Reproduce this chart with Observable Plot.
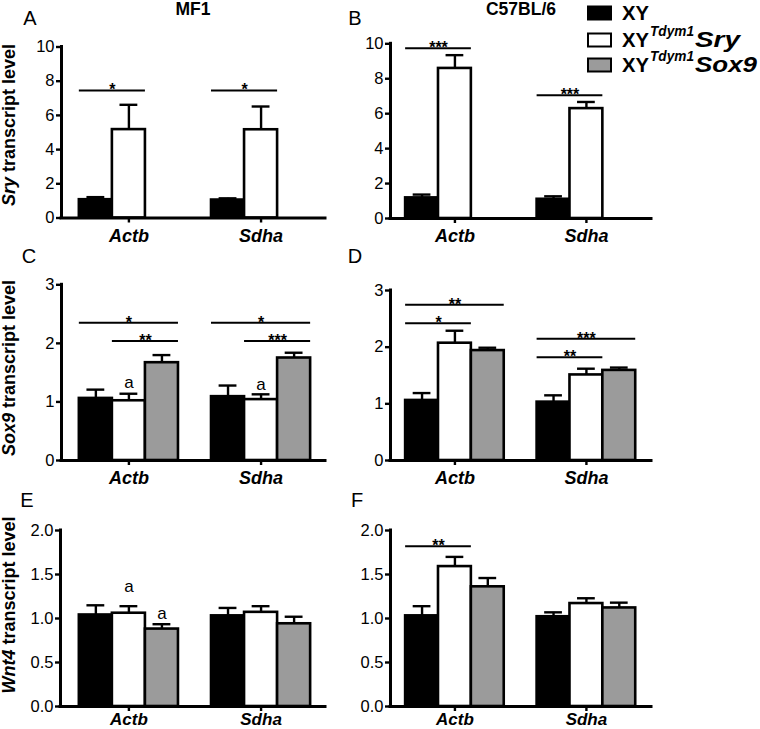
<!DOCTYPE html>
<html><head><meta charset="utf-8">
<script src="https://cdn.jsdelivr.net/npm/d3@7"></script>
<script src="https://cdn.jsdelivr.net/npm/@observablehq/plot@0.6"></script>
<style>
body{margin:0;background:#fff;}
#fig{position:relative;width:760px;height:729px;overflow:hidden;font-family:"Liberation Sans",Arial,Helvetica,sans-serif;}
#fig svg{position:absolute;}
</style></head><body><div id="fig"></div>
<script>
// ---------- data ----------
const genes = ["Actb", "Sdha"];
const genotypes = ["XY", "XYTdym1Sry", "XYTdym1Sox9"];
const genotypeFill = ["#000000", "#ffffff", "#9b9b9b"];
const strains = ["MF1", "C57BL/6"];
const legendLabels = [["XY", "", ""], ["XY", "Tdym1", "Sry"], ["XY", "Tdym1", "Sox9"]];
const yTitles = [["Sry", " transcript level"], ["Sox9", " transcript level"], ["Wnt4", " transcript level"]];

// order: Actb XY, Sry, Sox9 | Sdha XY, Sry, Sox9  (null = not measured); Err = top of error bar
const sryMF1Mean = [1.07, 5.17, null, 1.05, 5.16, null];
const sryMF1Err  = [1.22, 6.62, null, 1.15, 6.52, null];
const sryB6Mean  = [1.18, 8.59, null, 1.10, 6.29, null];
const sryB6Err   = [1.37, 9.35, null, 1.27, 6.67, null];
const sox9MF1Mean = [1.06, 1.02, 1.67, 1.09, 1.04, 1.75];
const sox9MF1Err  = [1.21, 1.14, 1.80, 1.28, 1.13, 1.84];
const sox9B6Mean  = [1.06, 2.07, 1.94, 1.03, 1.51, 1.59];
const sox9B6Err   = [1.19, 2.29, 1.99, 1.15, 1.62, 1.64];
const wnt4MF1Mean = [1.04, 1.06, 0.88, 1.03, 1.07, 0.94];
const wnt4MF1Err  = [1.15, 1.14, 0.935, 1.12, 1.14, 1.02];
const wnt4B6Mean  = [1.03, 1.59, 1.36, 1.02, 1.17, 1.12];
const wnt4B6Err   = [1.14, 1.70, 1.46, 1.07, 1.23, 1.18];

// significance brackets: [gene, from, to, height, label]
const sryMF1Sig = [["Actb", "XY", "XYTdym1Sry", 7.46, "*"], ["Sdha", "XY", "XYTdym1Sry", 7.46, "*"]];
const sryB6Sig = [["Actb", "XY", "XYTdym1Sry", 9.75, "***"], ["Sdha", "XY", "XYTdym1Sry", 7.05, "***"]];
const sox9MF1Sig = [["Actb", "XY", "XYTdym1Sox9", 2.35, "*"], ["Actb", "XYTdym1Sry", "XYTdym1Sox9", 2.04, "**"],
                    ["Sdha", "XY", "XYTdym1Sox9", 2.35, "*"], ["Sdha", "XYTdym1Sry", "XYTdym1Sox9", 2.04, "***"]];
const sox9B6Sig = [["Actb", "XY", "XYTdym1Sox9", 2.75, "**"], ["Actb", "XY", "XYTdym1Sry", 2.42, "*"],
                   ["Sdha", "XY", "XYTdym1Sox9", 2.15, "***"], ["Sdha", "XY", "XYTdym1Sry", 1.82, "**"]];
const wnt4MF1Sig = [];
const wnt4B6Sig = [["Actb", "XY", "XYTdym1Sry", 1.82, "**"]];

// letter annotations: [gene, genotype, baseline, label]
const sox9MF1Letters = [["Actb", "XYTdym1Sry", 1.23, "a"], ["Sdha", "XYTdym1Sry", 1.21, "a"]];
const wnt4MF1Letters = [["Actb", "XYTdym1Sry", 1.30, "a"], ["Actb", "XYTdym1Sox9", 0.99, "a"]];

const sryTicks = [0, 2, 4, 6, 8, 10];
const sox9Ticks = [0, 1, 2, 3];
const wnt4Ticks = [0, 0.5, 1, 1.5, 2];

// ---------- layout ----------
const FONT = "Liberation Sans, Arial, Helvetica, sans-serif";
const slotsPerGene = genotypes.length + 1;
const slot = (g, t) => genes.indexOf(g) * slotsPerGene + genotypes.indexOf(t);

const panels = [
  {letter: "A", mean: sryMF1Mean, err: sryMF1Err, sig: sryMF1Sig, letters: [], ticks: sryTicks, fmt: d3.format("d"),
   left: 0, top: 30, width: 340, height: 220, mt: 16.5, mb: 32.5, ml: 61, mr: 15, pad: 6, fs: 18, xd: [-0.54, 7.45]},
  {letter: "B", mean: sryB6Mean, err: sryB6Err, sig: sryB6Sig, letters: [], ticks: sryTicks, fmt: d3.format("d"),
   left: 340, top: 30, width: 420, height: 220, mt: 13.3, mb: 32, ml: 50, mr: 109, pad: 6, fs: 18, xd: [-0.46, 7.48]},
  {letter: "C", mean: sox9MF1Mean, err: sox9MF1Err, sig: sox9MF1Sig, letters: sox9MF1Letters, ticks: sox9Ticks, fmt: d3.format("d"),
   left: 0, top: 270, width: 340, height: 220, mt: 14.3, mb: 30, ml: 61, mr: 15, pad: 6, fs: 18, xd: [-0.54, 7.45]},
  {letter: "D", mean: sox9B6Mean, err: sox9B6Err, sig: sox9B6Sig, letters: [], ticks: sox9Ticks, fmt: d3.format("d"),
   left: 340, top: 270, width: 420, height: 220, mt: 20, mb: 30, ml: 50, mr: 109, pad: 6, fs: 18, xd: [-0.46, 7.48]},
  {letter: "E", mean: wnt4MF1Mean, err: wnt4MF1Err, sig: wnt4MF1Sig, letters: wnt4MF1Letters, ticks: wnt4Ticks, fmt: d3.format(".1f"),
   left: 0, top: 515, width: 340, height: 214, mt: 15, mb: 23, ml: 60, mr: 15, pad: 1, fs: 17, xd: [-0.57, 7.45]},
  {letter: "F", mean: wnt4B6Mean, err: wnt4B6Err, sig: wnt4B6Sig, letters: [], ticks: wnt4Ticks, fmt: d3.format(".1f"),
   left: 340, top: 515, width: 420, height: 214, mt: 15, mb: 23, ml: 50, mr: 109, pad: 1, fs: 17, xd: [-0.46, 7.48]}
];

const fig = document.getElementById("fig");

for (const p of panels) {
  const rows = [];
  genes.forEach((g, gi) => genotypes.forEach((t, ti) => {
    const k = gi * genotypes.length + ti;
    if (p.mean[k] != null) rows.push({gene: g, genotype: t, s: slot(g, t), mean: p.mean[k], err: p.err[k], fill: genotypeFill[ti]});
  }));
  const sig = p.sig.map(([gene, from, to, h, label]) => ({x1: slot(gene, from), x2: slot(gene, to) + 1, h, label}));
  const lets = p.letters.map(([gene, t, y, label]) => ({x: slot(gene, t) + 0.5, y, label}));
  const geneTicks = genes.map((g, i) => i * slotsPerGene + (genotypes.length) / 2);
  const ymax = p.ticks[p.ticks.length - 1];

  const svg = Plot.plot({
    width: p.width, height: p.height,
    marginTop: p.mt, marginBottom: p.mb, marginLeft: p.ml, marginRight: p.mr,
    x: {domain: p.xd},
    y: {domain: [0, ymax]},
    color: {type: "identity"},
    style: {fontFamily: FONT, fontSize: "16px", color: "#000", background: "transparent", overflow: "visible"},
    marks: [
      Plot.rectY(rows, {x1: "s", x2: d => d.s + 1, y1: 0, y2: "mean", fill: "fill", stroke: "#000", strokeWidth: 2.6}),
      Plot.ruleX(rows, {x: d => d.s + 0.5, y1: "mean", y2: "err", stroke: "#000", strokeWidth: 2.4}),
      Plot.ruleY(rows, {y: "err", x1: d => d.s + 0.23, x2: d => d.s + 0.77, stroke: "#000", strokeWidth: 2.4}),
      Plot.ruleY(sig, {y: "h", x1: "x1", x2: "x2", stroke: "#000", strokeWidth: 2}),
      Plot.text(sig, {x: d => (d.x1 + d.x2) / 2, y: "h", text: "label", lineAnchor: "bottom", dy: 5, fontWeight: "bold", fontSize: 16}),
      Plot.text(lets, {x: "x", y: "y", text: "label", lineAnchor: "bottom", fontSize: 17}),
      Plot.ruleY([0], {stroke: "#000", strokeWidth: 3, strokeLinecap: "square"}),
      Plot.ruleX([p.xd[0]], {stroke: "#000", strokeWidth: 3, strokeLinecap: "square"}),
      Plot.axisY(p.ticks, {tickSize: 5, tickPadding: 2, strokeWidth: 2.4, fontSize: 16.5, tickFormat: p.fmt, label: null}),
      Plot.axisX(geneTicks, {tickSize: 5, tickPadding: p.pad, strokeWidth: 2.4, fontSize: p.fs, fontWeight: "bold", fontStyle: "italic",
        tickFormat: d => genes[Math.round((d - genotypes.length / 2) / slotsPerGene)], label: null})
    ]
  });
  svg.style.left = p.left + "px";
  svg.style.top = p.top + "px";
  fig.appendChild(svg);
}

// ---------- overlay: panel letters, strain titles, y titles, legend ----------
const letterPos = [[30, 25], [355, 25], [29, 263], [355, 263], [27, 507], [357, 507]];
const strainPos = [[193, 15], [521, 15]];
const yTitlePos = [[15, 125], [15, 368], [15, 605]];
const legendRows = [13, 40, 65];
// legend text pieces: [x, width] of "XY", superscript, italic gene part
const legendXY = [622, 27];
const legendSup = [650, 44];
const legendGene = [[695, 45], [695, 62]];

let o = `<svg xmlns="http://www.w3.org/2000/svg" width="760" height="729" style="left:0;top:0" font-family="${FONT}">`;
panels.forEach((p, i) => {
  o += `<text x="${letterPos[i][0]}" y="${letterPos[i][1]}" text-anchor="middle" font-size="20">${p.letter}</text>`;
});
strains.forEach((s, i) => {
  o += `<text x="${strainPos[i][0]}" y="${strainPos[i][1]}" text-anchor="middle" font-size="17.5" font-weight="bold">${s}</text>`;
});
yTitles.forEach((t, i) => {
  o += `<text transform="translate(${yTitlePos[i][0]},${yTitlePos[i][1]}) rotate(-90)" text-anchor="middle" font-size="18" font-weight="bold"><tspan font-style="italic">${t[0]}</tspan>${t[1]}</text>`;
});
legendLabels.forEach((l, i) => {
  const cy = legendRows[i];
  const base = cy + 7;
  o += `<rect x="588" y="${cy - 6.5}" width="23" height="13" fill="${genotypeFill[i]}" stroke="#000" stroke-width="2"/>`;
  o += `<text x="${legendXY[0]}" y="${base}" font-size="20" font-weight="bold" textLength="${legendXY[1]}" lengthAdjust="spacingAndGlyphs">${l[0]}</text>`;
  if (l[1]) {
    const [gx, gw] = legendGene[i - 1];
    o += `<text x="${legendSup[0]}" y="${base - 11}" font-size="14" font-weight="bold" font-style="italic" textLength="${legendSup[1]}" lengthAdjust="spacingAndGlyphs">${l[1]}</text>`;
    o += `<text x="${gx}" y="${base}" font-size="22" font-weight="bold" font-style="italic" textLength="${gw}" lengthAdjust="spacingAndGlyphs">${l[2]}</text>`;
  }
});
o += `</svg>`;
fig.insertAdjacentHTML("beforeend", o);
</script>
</body></html>
